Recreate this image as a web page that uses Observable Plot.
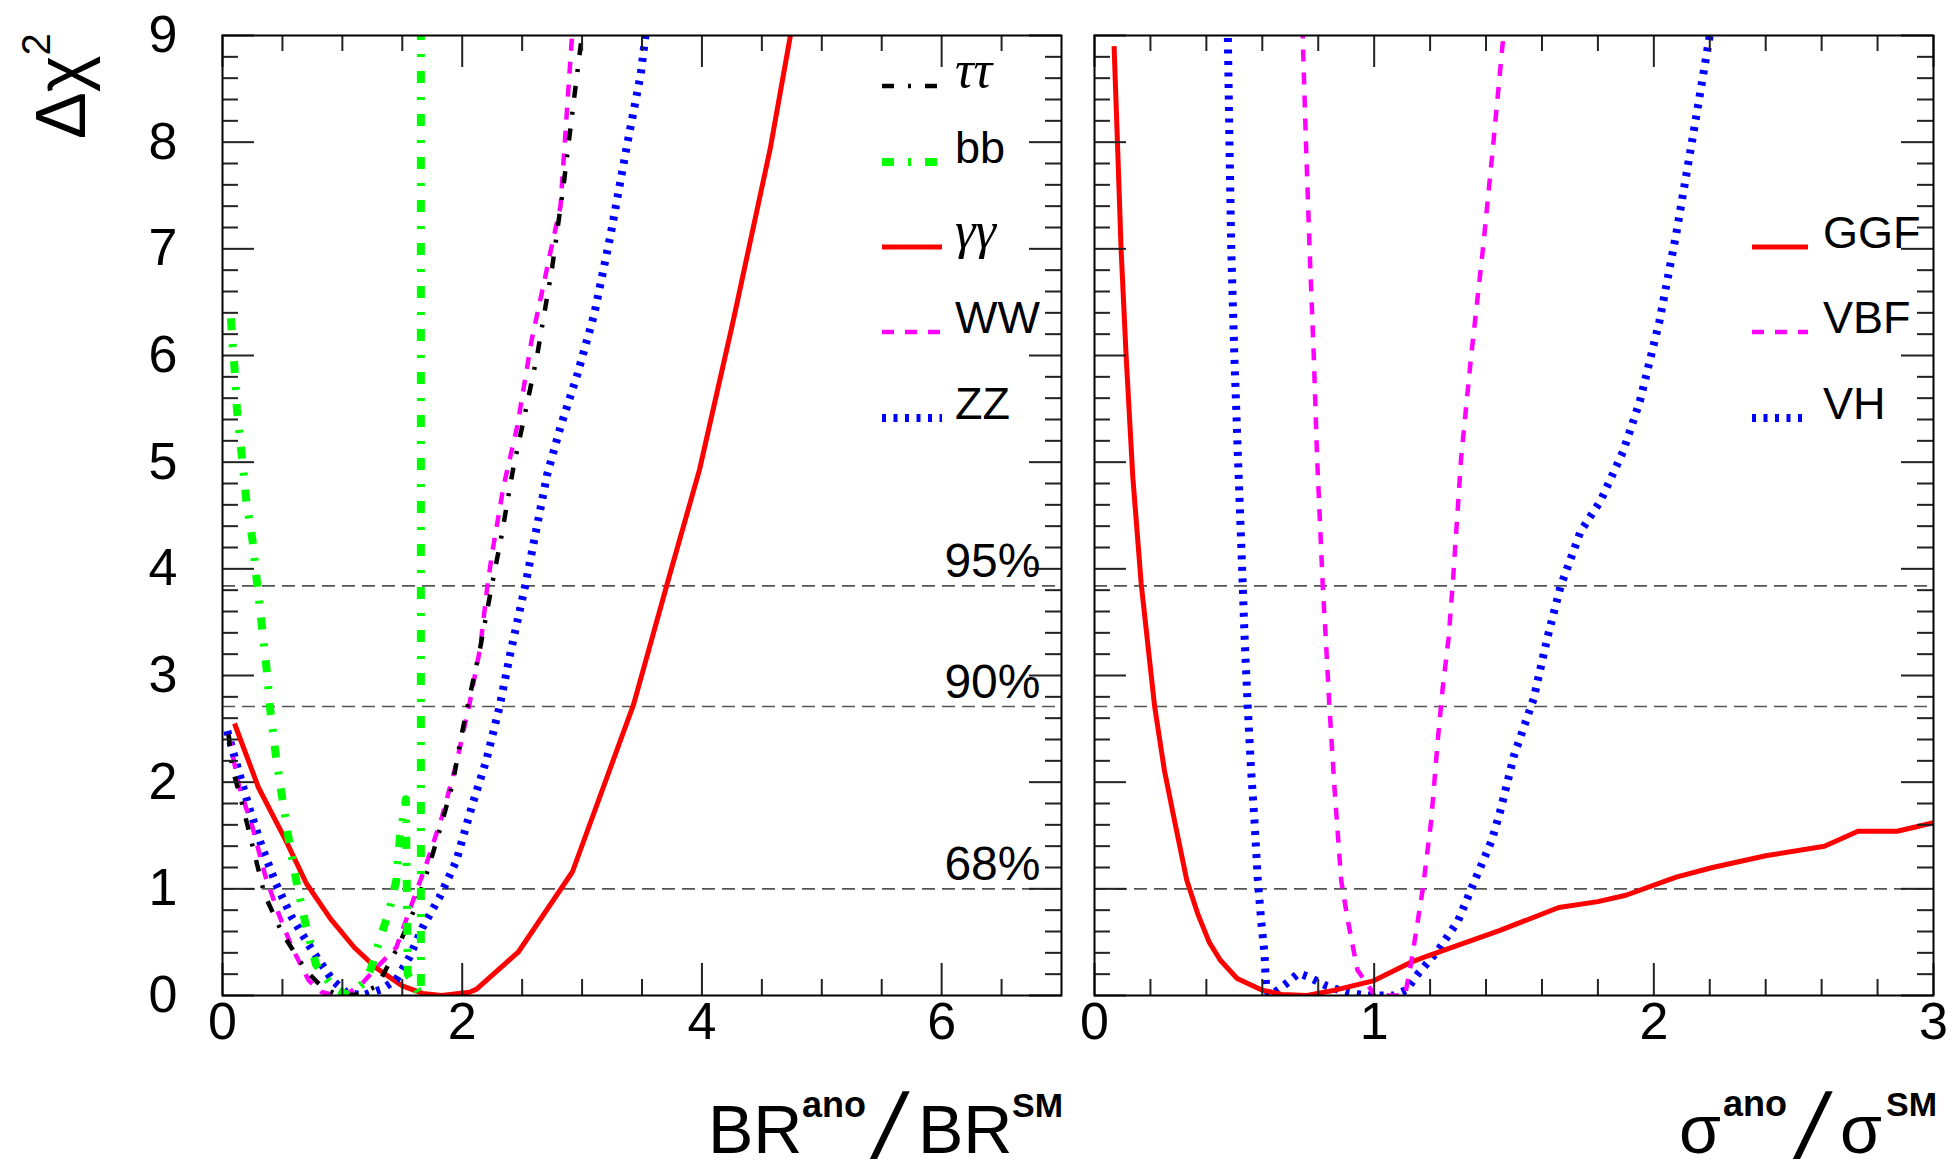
<!DOCTYPE html>
<html>
<head>
<meta charset="utf-8">
<script src="https://cdn.jsdelivr.net/npm/d3@7"></script>
<script src="https://cdn.jsdelivr.net/npm/@observablehq/plot@0.6"></script>
<style>
  html, body { margin: 0; padding: 0; background: #fff; }
  #chart { position: relative; width: 1958px; height: 1167px; overflow: hidden; background: #fff; }
  #chart svg { position: absolute; top: 0; }
</style>
</head>
<body>
<div id="chart"></div>
<script>
// Δχ² scans versus the anomalous branching ratio (left) and production cross section (right).
// Each series is a list of [ratio, Δχ²] points.

// Decay channels, BR^ano / BR^SM
const tautau = [[0.05,2.45],[0.08,2.14],[0.17,1.77],[0.26,1.36],[0.35,0.95],[0.5,0.58],[0.7,0.23],[0.83,0.08],[0.97,0.0],[1.14,0.01],[1.29,0.09],[1.47,0.47],[1.61,0.83],[1.72,1.2],[1.82,1.58],[1.92,1.98],[1.99,2.42],[2.06,2.79],[2.15,3.26],[2.25,3.86],[2.32,4.26],[2.43,4.97],[2.51,5.38],[2.625,6.0],[2.75,6.82],[2.846,7.6],[2.93,8.38],[3.0,9.01],[3.02,9.3]];
const bb = [[0.07,6.35],[0.085,6.09],[0.1,5.89],[0.12,5.5],[0.16,5.07],[0.2,4.63],[0.25,4.27],[0.29,3.85],[0.33,3.45],[0.37,3.04],[0.40,2.66],[0.445,2.25],[0.5,1.84],[0.555,1.45],[0.62,1.05],[0.695,0.66],[0.78,0.29],[0.92,0.08],[1.05,0.0],[1.2,0.14],[1.25,0.29],[1.31,0.52],[1.39,0.79],[1.45,1.08],[1.48,1.48],[1.53,1.84],[1.545,0.2],[1.655,0.0],[1.655,9.3]];
const gamgam = [[0.1,2.55],[0.3,1.95],[0.53,1.45],[0.7,1.05],[0.9,0.72],[1.1,0.45],[1.28,0.26],[1.5,0.09],[1.67,0.02],[1.83,0.0],[2.06,0.03],[2.12,0.06],[2.47,0.41],[2.92,1.16],[3.43,2.73],[3.73,3.94],[3.98,4.93],[4.26,6.32],[4.57,7.94],[4.77,9.2]];
const ww = [[0.05,2.45],[0.14,1.95],[0.25,1.58],[0.36,1.11],[0.47,0.76],[0.58,0.45],[0.72,0.14],[0.83,0.03],[0.95,0.0],[1.05,0.02],[1.17,0.12],[1.31,0.29],[1.45,0.45],[1.58,0.86],[1.7,1.23],[1.83,1.67],[1.95,2.17],[2.06,2.73],[2.15,3.26],[2.21,3.84],[2.25,4.15],[2.346,4.78],[2.46,5.34],[2.58,6.15],[2.68,6.67],[2.736,6.97],[2.82,7.4],[2.874,8.3],[2.917,9.01],[2.93,9.3]];
const zz = [[0.04,2.48],[0.11,2.2],[0.22,1.77],[0.33,1.39],[0.445,1.05],[0.58,0.73],[0.75,0.42],[0.92,0.14],[1.03,0.03],[1.17,0.0],[1.33,0.06],[1.45,0.15],[1.56,0.36],[1.67,0.64],[1.81,0.92],[1.95,1.26],[2.085,1.79],[2.2,2.2],[2.31,2.7],[2.40,3.2],[2.527,3.85],[2.71,4.89],[2.82,5.33],[2.96,5.82],[3.1,6.38],[3.236,7.12],[3.375,7.97],[3.49,8.64],[3.53,9.01],[3.55,9.3]];

// Production modes, σ^ano / σ^SM
const ggf = [[0.07,8.9],[0.083,7.93],[0.095,7.0],[0.113,6.0],[0.137,4.86],[0.167,3.86],[0.197,3.14],[0.215,2.71],[0.25,2.11],[0.286,1.64],[0.33,1.08],[0.37,0.76],[0.41,0.5],[0.45,0.33],[0.51,0.16],[0.6,0.05],[0.67,0.01],[0.76,0.0],[0.86,0.05],[1.0,0.14],[1.13,0.31],[1.19,0.37],[1.45,0.61],[1.66,0.825],[1.8,0.88],[1.9,0.94],[2.08,1.11],[2.21,1.2],[2.4,1.31],[2.61,1.4],[2.73,1.54],[2.87,1.54],[3.0,1.62]];
const vbf = [[0.742,9.3],[0.745,8.94],[0.757,7.93],[0.769,7.0],[0.784,6.0],[0.796,5.04],[0.816,3.85],[0.828,3.3],[0.84,2.71],[0.858,1.95],[0.882,1.08],[0.906,0.7],[0.94,0.24],[0.99,0.05],[1.0,0.0],[1.11,0.0],[1.132,0.3],[1.156,0.7],[1.174,1.0],[1.204,1.64],[1.228,2.41],[1.245,2.88],[1.266,3.35],[1.281,3.86],[1.311,5.04],[1.347,6.0],[1.389,7.0],[1.424,7.93],[1.46,8.94],[1.465,9.3]];
const vh = [[0.476,9.3],[0.477,8.95],[0.483,7.93],[0.489,7.0],[0.5,6.0],[0.513,5.04],[0.53,3.86],[0.536,3.4],[0.548,2.7],[0.56,2.11],[0.572,1.64],[0.584,1.08],[0.596,0.7],[0.608,0.39],[0.614,0.05],[0.63,0.0],[0.68,0.1],[0.73,0.21],[0.76,0.18],[0.83,0.09],[0.9,0.03],[0.97,0.0],[1.07,0.0],[1.114,0.05],[1.156,0.2],[1.228,0.42],[1.3,0.7],[1.36,1.08],[1.42,1.45],[1.452,1.74],[1.5,2.25],[1.57,2.78],[1.62,3.36],[1.666,3.83],[1.738,4.35],[1.81,4.64],[1.89,5.1],[1.95,5.57],[2.02,6.32],[2.08,7.14],[2.14,8.06],[2.2,9.0],[2.21,9.3]];

// Confidence-level thresholds
const clValues = [1, 2.71, 3.84];
const clLabels = ["68%", "90%", "95%"];

// Axis ticks and labels
const yTicks = [0, 1, 2, 3, 4, 5, 6, 7, 8, 9];
const xTicksBR = [0, 2, 4, 6];
const xTicksSigma = [0, 1, 2, 3];

// Legend entries
const channelNames = ["ττ", "bb", "γγ", "WW", "ZZ"];
const productionNames = ["GGF", "VBF", "VH"];

// Line styles
const STYLE = {
  black:   {color: "#000000", width: 4.5, dash: "12 14 3 14"},
  green:   {color: "#00ff00", width: 8,   dash: "12 14 3 14"},
  red:     {color: "#ff0000", width: 5,   dash: null},
  magenta: {color: "#ff00ff", width: 4.5, dash: "12 11"},
  blue:    {color: "#0000ff", width: 8,   dash: "4 7.5"}
};

const SANS = "'Liberation Sans', Arial, Helvetica, sans-serif";
const SERIF = "'Liberation Serif', 'Times New Roman', serif";
const H = 1167, MT = 35, MB = 172;
const FRAME_H = H - MT - MB;   // 960
const FRAME_W = 839;
const MAJOR = 32, MINOR = 16;

const yMinor = d3.range(0, 46).map(i => i / 5).filter(v => v % 1 !== 0);

function curveMark(data, st) {
  return Plot.line(data, {
    x: d => d[0], y: d => d[1],
    stroke: st.color, strokeWidth: st.width,
    ...(st.dash ? {strokeDasharray: st.dash} : {}),
    strokeLinecap: "butt", strokeLinejoin: "round",
    clip: true
  });
}

function tickMarks(xMajor, xMinor) {
  const s = {stroke: "#222", strokeWidth: 2};
  return [
    Plot.tickX(xMajor, {x: d => d, insetTop: FRAME_H - MAJOR, ...s}),
    Plot.tickX(xMinor, {x: d => d, insetTop: FRAME_H - MINOR, ...s}),
    Plot.tickX(xMajor, {x: d => d, insetBottom: FRAME_H - MAJOR, ...s}),
    Plot.tickX(xMinor, {x: d => d, insetBottom: FRAME_H - MINOR, ...s}),
    Plot.tickY(yTicks, {y: d => d, insetRight: FRAME_W - MAJOR, ...s}),
    Plot.tickY(yMinor, {y: d => d, insetRight: FRAME_W - MINOR, ...s}),
    Plot.tickY(yTicks, {y: d => d, insetLeft: FRAME_W - MAJOR, ...s}),
    Plot.tickY(yMinor, {y: d => d, insetLeft: FRAME_W - MINOR, ...s})
  ];
}

function panel({width, marginLeft, xDomain, xMajor, xMinor, curves, extra}) {
  return Plot.plot({
    width, height: H,
    marginLeft, marginRight: width - marginLeft - FRAME_W, marginTop: MT, marginBottom: MB,
    x: {domain: xDomain, axis: null},
    y: {domain: [0, 9], axis: null},
    style: {background: "#fff", fontFamily: SANS, color: "#000", overflow: "visible"},
    marks: [
      Plot.ruleY(clValues, {y: d => d, stroke: "#555", strokeWidth: 1.6, strokeDasharray: "13 7"}),
      ...curves.map(c => curveMark(c.data, c.style)),
      ...tickMarks(xMajor, xMinor),
      Plot.frame({stroke: "#000", strokeWidth: 2}),
      Plot.text(xMajor, {x: d => d, frameAnchor: "bottom", text: d => String(d), dy: 43, fontSize: 52, fontFamily: SANS, fill: "#000"}),
      ...extra
    ]
  });
}

// Left panel: decay channels
const leftCurves = [
  {data: gamgam, style: STYLE.red},
  {data: zz, style: STYLE.blue},
  {data: ww, style: STYLE.magenta},
  {data: tautau, style: STYLE.black},
  {data: bb, style: STYLE.green}
];
const left = panel({
  width: 1075, marginLeft: 222,
  xDomain: [0, 7], xMajor: xTicksBR,
  xMinor: d3.range(0, 14).map(i => i / 2).filter(v => v % 2 !== 0),
  curves: leftCurves,
  extra: [
    Plot.text(yTicks, {y: d => d, frameAnchor: "left", text: d => String(d), textAnchor: "end", dx: -45, fontSize: 52, fontFamily: SANS, fill: "#000"}),
    Plot.text(clValues, {y: d => d, frameAnchor: "right", text: (d, i) => clLabels[i], textAnchor: "end", dx: -21, dy: -24, fontSize: 48, fontFamily: SANS, fill: "#000"})
  ]
});

// Right panel: production modes
const rightCurves = [
  {data: vh, style: STYLE.blue},
  {data: ggf, style: STYLE.red},
  {data: vbf, style: STYLE.magenta}
];
const right = panel({
  width: 883, marginLeft: 19,
  xDomain: [0, 3], xMajor: xTicksSigma,
  xMinor: d3.range(0, 15).map(i => i / 5).filter(v => v % 1 !== 0),
  curves: rightCurves,
  extra: []
});

const chart = document.getElementById("chart");
left.style.left = "0px";
right.style.left = "1075px";
chart.append(left, right);

// Legends
function legend(svg, entries, {x1, x2, tx}) {
  const g = d3.select(svg).append("g").attr("text-anchor", "start");
  for (const e of entries) {
    g.append("line")
      .attr("x1", x1).attr("x2", x2).attr("y1", e.y).attr("y2", e.y)
      .attr("stroke", e.style.color).attr("stroke-width", e.style.width)
      .attr("stroke-dasharray", e.style.dash)
      .attr("stroke-linecap", "butt");
    g.append("text")
      .attr("x", tx).attr("y", e.y + 1)
      .attr("text-anchor", "start")
      .attr("font-family", e.greek ? SERIF : SANS)
      .attr("font-style", e.greek ? "italic" : "normal")
      .attr("font-size", e.greek ? 52 : 45)
      .attr("fill", "#000")
      .text(e.label);
  }
}
const legendRows = [86, 162, 247, 332, 418];
legend(left, [
  {label: channelNames[0], style: STYLE.black, y: legendRows[0], greek: true},
  {label: channelNames[1], style: STYLE.green, y: legendRows[1]},
  {label: channelNames[2], style: STYLE.red, y: legendRows[2], greek: true},
  {label: channelNames[3], style: STYLE.magenta, y: legendRows[3]},
  {label: channelNames[4], style: STYLE.blue, y: legendRows[4]}
], {x1: 882, x2: 942, tx: 955});
legend(right, [
  {label: productionNames[0], style: STYLE.red, y: legendRows[2]},
  {label: productionNames[1], style: STYLE.magenta, y: legendRows[3]},
  {label: productionNames[2], style: STYLE.blue, y: legendRows[4]}
], {x1: 677, x2: 733, tx: 748});

// Axis titles
function piece(g, txt, x, y, size, weight) {
  return g.append("text").attr("x", x).attr("y", y)
    .attr("text-anchor", "start")
    .attr("font-family", SANS).attr("font-size", size)
    .attr("font-weight", weight || "normal").attr("fill", "#000").text(txt);
}
function slash(g, x, y) {
  g.append("text").attr("transform", `translate(${x},${y}) skewX(-12)`)
    .attr("text-anchor", "start")
    .attr("font-family", SANS).attr("font-size", 92).attr("fill", "#000").text("/");
}
{
  const g = d3.select(left).append("g").attr("text-anchor", "start");
  piece(g, "BR", 708, 1153, 68);
  piece(g, "ano", 802, 1117, 36, "bold");
  slash(g, 870, 1158);
  piece(g, "BR", 918, 1153, 68);
  piece(g, "SM", 1012, 1117, 34, "bold");

  const yt = g.append("text").attr("transform", "translate(85,139) rotate(-90)")
    .attr("text-anchor", "start")
    .attr("font-family", SANS).attr("font-size", 70).attr("fill", "#000");
  yt.append("tspan").text("Δχ");
  yt.append("tspan").attr("dy", -35).attr("font-size", 40).text("2");
}
{
  const g = d3.select(right).append("g").attr("text-anchor", "start");
  const o = 1075;
  piece(g, "σ", 1679 - o, 1153, 68);
  piece(g, "ano", 1723 - o, 1116, 36, "bold");
  slash(g, 1793 - o, 1158);
  piece(g, "σ", 1840 - o, 1153, 68);
  piece(g, "SM", 1886 - o, 1116, 34, "bold");
}
</script>
</body>
</html>
